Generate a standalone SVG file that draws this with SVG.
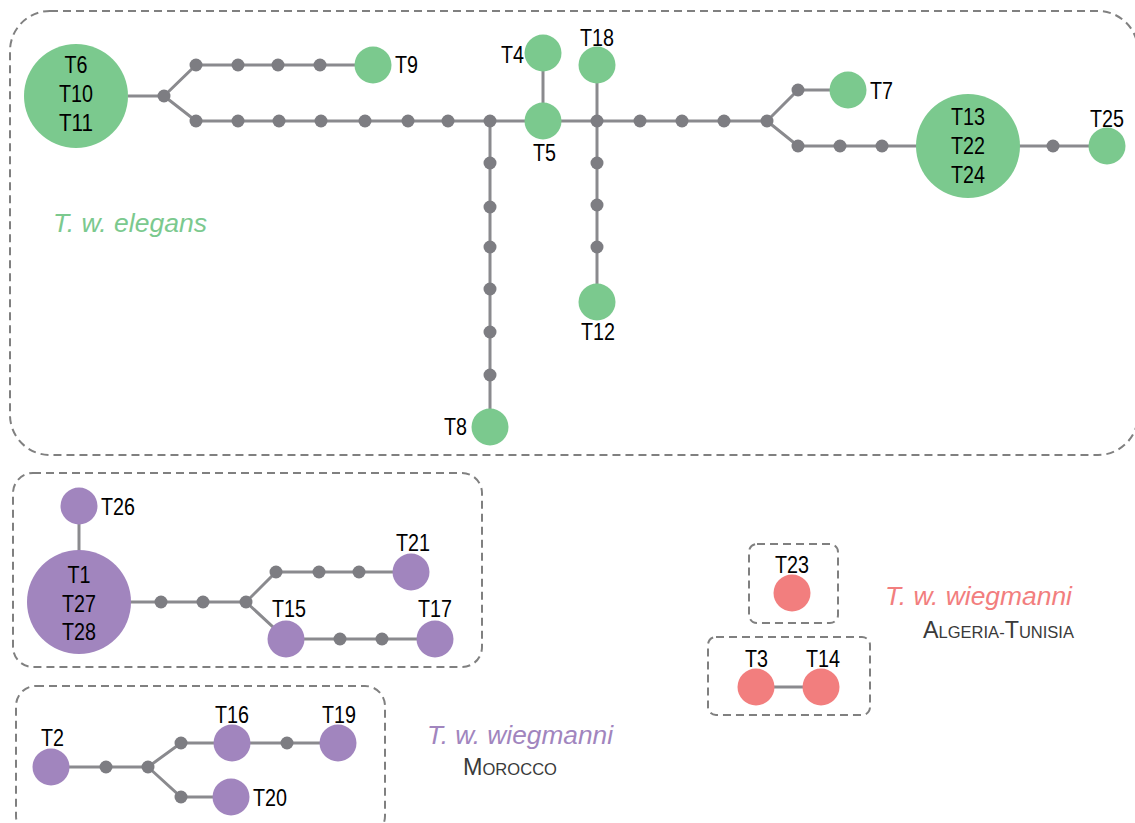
<svg xmlns="http://www.w3.org/2000/svg" width="1135" height="823" viewBox="0 0 1135 823">
<style>
.bg{fill:#fff}
.box{fill:none;stroke:#808080;stroke-width:2;stroke-dasharray:8 5}
.ln{stroke:#8a8a8e;stroke-width:3;fill:none}
.dot{fill:#7d7d82}
.g{fill:#7bc98e}
.p{fill:#a185be}
.r{fill:#f27e7e}
.lb{font-family:"Liberation Sans",Arial,sans-serif;font-size:23px;fill:#000}
.ttl{font-family:"Liberation Sans",Arial,sans-serif;font-size:25px;font-style:italic}
.reg{font-family:"Liberation Sans",Arial,sans-serif;fill:#3a3a3a}
</style>
<rect class="bg" width="1135" height="823"/>
<g id="groups">
<rect class="box" x="10" y="11" width="1128" height="444" rx="40"/>
<rect class="box" x="13" y="473" width="469" height="194" rx="20"/>
<rect class="box" x="16" y="686" width="369" height="150" rx="20"/>
<rect class="box" x="749" y="544" width="89" height="79" rx="8"/>
<rect class="box" x="708" y="637" width="162" height="78" rx="8"/>
</g>
<g id="connectors">
<line class="ln" x1="128" y1="96" x2="164" y2="96"/>
<polyline class="ln" points="164,96 196,65 373,65"/>
<polyline class="ln" points="164,96 196,121 767,121"/>
<line class="ln" x1="543" y1="53" x2="543" y2="121"/>
<line class="ln" x1="597" y1="65" x2="597" y2="121"/>
<line class="ln" x1="490" y1="121" x2="490" y2="427"/>
<line class="ln" x1="597" y1="121" x2="597" y2="302"/>
<polyline class="ln" points="767,121 798,90 848,90"/>
<polyline class="ln" points="767,121 798,146 1107,146"/>
<line class="ln" x1="79" y1="506" x2="79" y2="602"/>
<line class="ln" x1="79" y1="602" x2="246" y2="602"/>
<polyline class="ln" points="246,602 276,572 411,572"/>
<polyline class="ln" points="246,602 286,639 435,639"/>
<line class="ln" x1="51" y1="767" x2="148" y2="767"/>
<polyline class="ln" points="148,767 181,743 338,743"/>
<polyline class="ln" points="148,767 181,797 231,797"/>
<line class="ln" x1="756" y1="687" x2="821" y2="687"/>
</g>
<g id="medians">
<circle class="dot" cx="164" cy="96" r="6.5"/>
<circle class="dot" cx="196" cy="65" r="6.5"/>
<circle class="dot" cx="238" cy="65" r="6.5"/>
<circle class="dot" cx="278" cy="65" r="6.5"/>
<circle class="dot" cx="320" cy="65" r="6.5"/>
<circle class="dot" cx="196" cy="121" r="6.5"/>
<circle class="dot" cx="238" cy="121" r="6.5"/>
<circle class="dot" cx="279" cy="121" r="6.5"/>
<circle class="dot" cx="321" cy="121" r="6.5"/>
<circle class="dot" cx="365" cy="121" r="6.5"/>
<circle class="dot" cx="408" cy="121" r="6.5"/>
<circle class="dot" cx="448" cy="121" r="6.5"/>
<circle class="dot" cx="490" cy="121" r="6.5"/>
<circle class="dot" cx="597" cy="121" r="6.5"/>
<circle class="dot" cx="640" cy="121" r="6.5"/>
<circle class="dot" cx="682" cy="121" r="6.5"/>
<circle class="dot" cx="724" cy="121" r="6.5"/>
<circle class="dot" cx="767" cy="121" r="6.5"/>
<circle class="dot" cx="798" cy="90" r="6.5"/>
<circle class="dot" cx="798" cy="146" r="6.5"/>
<circle class="dot" cx="840" cy="146" r="6.5"/>
<circle class="dot" cx="882" cy="146" r="6.5"/>
<circle class="dot" cx="1053" cy="146" r="6.5"/>
<circle class="dot" cx="490" cy="163" r="6.5"/>
<circle class="dot" cx="490" cy="207" r="6.5"/>
<circle class="dot" cx="490" cy="247" r="6.5"/>
<circle class="dot" cx="490" cy="289" r="6.5"/>
<circle class="dot" cx="490" cy="332" r="6.5"/>
<circle class="dot" cx="490" cy="375" r="6.5"/>
<circle class="dot" cx="597" cy="163" r="6.5"/>
<circle class="dot" cx="597" cy="205" r="6.5"/>
<circle class="dot" cx="597" cy="247" r="6.5"/>
<circle class="dot" cx="161" cy="602" r="6.5"/>
<circle class="dot" cx="203" cy="602" r="6.5"/>
<circle class="dot" cx="246" cy="602" r="6.5"/>
<circle class="dot" cx="276" cy="572" r="6.5"/>
<circle class="dot" cx="319" cy="572" r="6.5"/>
<circle class="dot" cx="359" cy="572" r="6.5"/>
<circle class="dot" cx="340" cy="639" r="6.5"/>
<circle class="dot" cx="382" cy="639" r="6.5"/>
<circle class="dot" cx="106" cy="767" r="6.5"/>
<circle class="dot" cx="148" cy="767" r="6.5"/>
<circle class="dot" cx="181" cy="743" r="6.5"/>
<circle class="dot" cx="287" cy="743" r="6.5"/>
<circle class="dot" cx="181" cy="797" r="6.5"/>
</g>
<g id="n-T6-T10-T11"><circle class="g" cx="76" cy="96" r="52"/>
<text class="lb" x="76" y="73" text-anchor="middle" textLength="23" lengthAdjust="spacingAndGlyphs">T6</text>
<text class="lb" x="76" y="102" text-anchor="middle" textLength="34" lengthAdjust="spacingAndGlyphs">T10</text>
<text class="lb" x="76" y="131" text-anchor="middle" textLength="34" lengthAdjust="spacingAndGlyphs">T11</text></g>
<g id="n-T9"><circle class="g" cx="373" cy="65" r="18.5"/><text class="lb" x="395" y="73" textLength="23" lengthAdjust="spacingAndGlyphs">T9</text></g>
<g id="n-T4"><circle class="g" cx="543" cy="53" r="18.5"/><text class="lb" x="501" y="63" textLength="23" lengthAdjust="spacingAndGlyphs">T4</text></g>
<g id="n-T5"><circle class="g" cx="543" cy="121" r="18.5"/><text class="lb" x="533" y="161" textLength="23" lengthAdjust="spacingAndGlyphs">T5</text></g>
<g id="n-T18"><circle class="g" cx="597" cy="65" r="18.5"/><text class="lb" x="580" y="46" textLength="34" lengthAdjust="spacingAndGlyphs">T18</text></g>
<g id="n-T7"><circle class="g" cx="848" cy="90" r="18.5"/><text class="lb" x="870" y="99" textLength="23" lengthAdjust="spacingAndGlyphs">T7</text></g>
<g id="n-T13-T22-T24"><circle class="g" cx="968" cy="146" r="52"/>
<text class="lb" x="968" y="125" text-anchor="middle" textLength="34" lengthAdjust="spacingAndGlyphs">T13</text>
<text class="lb" x="968" y="154" text-anchor="middle" textLength="34" lengthAdjust="spacingAndGlyphs">T22</text>
<text class="lb" x="968" y="183" text-anchor="middle" textLength="34" lengthAdjust="spacingAndGlyphs">T24</text></g>
<g id="n-T25"><circle class="g" cx="1107" cy="146" r="18.5"/><text class="lb" x="1090" y="127" textLength="34" lengthAdjust="spacingAndGlyphs">T25</text></g>
<g id="n-T8"><circle class="g" cx="490" cy="427" r="18.5"/><text class="lb" x="444" y="435" textLength="23" lengthAdjust="spacingAndGlyphs">T8</text></g>
<g id="n-T12"><circle class="g" cx="597" cy="302" r="18.5"/><text class="lb" x="581" y="340" textLength="34" lengthAdjust="spacingAndGlyphs">T12</text></g>
<g id="n-T26"><circle class="p" cx="79" cy="506" r="18.5"/><text class="lb" x="101" y="515" textLength="34" lengthAdjust="spacingAndGlyphs">T26</text></g>
<g id="n-T1-T27-T28"><circle class="p" cx="79" cy="602" r="52"/>
<text class="lb" x="79" y="583" text-anchor="middle" textLength="23" lengthAdjust="spacingAndGlyphs">T1</text>
<text class="lb" x="79" y="612" text-anchor="middle" textLength="34" lengthAdjust="spacingAndGlyphs">T27</text>
<text class="lb" x="79" y="640" text-anchor="middle" textLength="34" lengthAdjust="spacingAndGlyphs">T28</text></g>
<g id="n-T21"><circle class="p" cx="411" cy="572" r="18.5"/><text class="lb" x="396" y="551" textLength="34" lengthAdjust="spacingAndGlyphs">T21</text></g>
<g id="n-T15"><circle class="p" cx="286" cy="639" r="18.5"/><text class="lb" x="272" y="617" textLength="34" lengthAdjust="spacingAndGlyphs">T15</text></g>
<g id="n-T17"><circle class="p" cx="435" cy="639" r="18.5"/><text class="lb" x="418" y="617" textLength="34" lengthAdjust="spacingAndGlyphs">T17</text></g>
<g id="n-T2"><circle class="p" cx="51" cy="767" r="18.5"/><text class="lb" x="41" y="746" textLength="23" lengthAdjust="spacingAndGlyphs">T2</text></g>
<g id="n-T16"><circle class="p" cx="232" cy="743" r="18.5"/><text class="lb" x="215" y="723" textLength="34" lengthAdjust="spacingAndGlyphs">T16</text></g>
<g id="n-T19"><circle class="p" cx="338" cy="743" r="18.5"/><text class="lb" x="322" y="723" textLength="34" lengthAdjust="spacingAndGlyphs">T19</text></g>
<g id="n-T20"><circle class="p" cx="231" cy="797" r="18.5"/><text class="lb" x="253" y="806" textLength="34" lengthAdjust="spacingAndGlyphs">T20</text></g>
<g id="n-T23"><circle class="r" cx="792" cy="593" r="18.5"/><text class="lb" x="775" y="573" textLength="34" lengthAdjust="spacingAndGlyphs">T23</text></g>
<g id="n-T3"><circle class="r" cx="756" cy="687" r="18.5"/><text class="lb" x="745" y="667" textLength="23" lengthAdjust="spacingAndGlyphs">T3</text></g>
<g id="n-T14"><circle class="r" cx="821" cy="687" r="18.5"/><text class="lb" x="806" y="667" textLength="34" lengthAdjust="spacingAndGlyphs">T14</text></g>
<g id="legend">
<text class="ttl" x="53" y="232" fill="#7bc98e" textLength="154" lengthAdjust="spacingAndGlyphs">T. w. elegans</text>
<text class="ttl" x="427" y="744" fill="#a185be" textLength="186" lengthAdjust="spacingAndGlyphs">T. w. wiegmanni</text>
<text class="reg" x="463" y="775" font-size="24" textLength="94" lengthAdjust="spacingAndGlyphs">M<tspan font-size="17">OROCCO</tspan></text>
<text class="ttl" x="885" y="605" fill="#f27e7e" textLength="187" lengthAdjust="spacingAndGlyphs">T. w. wiegmanni</text>
<text class="reg" x="923" y="638" font-size="24" textLength="151" lengthAdjust="spacingAndGlyphs">A<tspan font-size="17">LGERIA-</tspan>T<tspan font-size="17">UNISIA</tspan></text>
</g>
</svg>
